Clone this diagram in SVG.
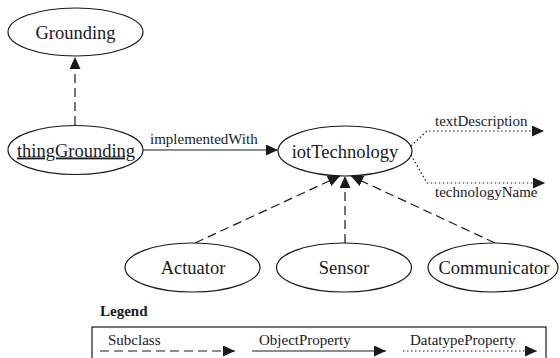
<svg xmlns="http://www.w3.org/2000/svg" width="560" height="358" viewBox="0 0 560 358">
<defs>
<style>
.node ellipse{fill:#fff;stroke:#1a1a1a;stroke-width:1.2}
.lbl{font-family:"Liberation Serif","Times New Roman",serif;font-size:18.5px;fill:#1a1a1a;text-anchor:middle}
.sm{font-family:"Liberation Serif","Times New Roman",serif;font-size:15px;fill:#1a1a1a}
.sub{fill:none;stroke:#1a1a1a;stroke-width:1.2;stroke-dasharray:9,5}
.obj{fill:none;stroke:#1a1a1a;stroke-width:1.2}
.dat{fill:none;stroke:#1a1a1a;stroke-width:1.2;stroke-dasharray:1.5,2.5}
</style>
<marker id="ah" markerUnits="userSpaceOnUse" markerWidth="12" markerHeight="11" refX="12" refY="5.5" orient="auto">
<path d="M0,0 L12,5.5 L0,11 z" fill="#1a1a1a"/>
</marker>
</defs>
<rect width="560" height="358" fill="#fff"/>
<g id="connectors">
<line class="sub" x1="75" y1="125" x2="75" y2="57" marker-end="url(#ah)"/>
<line class="obj" x1="143" y1="150" x2="278" y2="150" marker-end="url(#ah)"/>
<line class="sub" x1="195" y1="243" x2="340" y2="176" marker-end="url(#ah)"/>
<line class="sub" x1="345" y1="243" x2="345" y2="176" marker-end="url(#ah)"/>
<line class="sub" x1="495" y1="243" x2="351" y2="176" marker-end="url(#ah)"/>
<path class="dat" d="M411,146 L427,131 L544,131" marker-end="url(#ah)"/>
<path class="dat" d="M411,155 L427,183 L545,183" marker-end="url(#ah)"/>
<text class="sm" x="150" y="144">implementedWith</text>
<text class="sm" x="435" y="126">textDescription</text>
<text class="sm" x="435" y="197">technologyName</text>
</g>
<g id="Grounding" class="node">
<ellipse cx="75.5" cy="32" rx="67.5" ry="24"/>
<text class="lbl" x="75.5" y="38.5">Grounding</text>
</g>
<g id="thingGrounding" class="node">
<ellipse cx="75.5" cy="150" rx="67.5" ry="24.5"/>
<text class="lbl" x="76" y="156.5" text-decoration="underline">thingGrounding</text>
</g>
<g id="iotTechnology" class="node">
<ellipse cx="345" cy="151" rx="67" ry="25"/>
<text class="lbl" x="345" y="157.5">iotTechnology</text>
</g>
<g id="Actuator" class="node">
<ellipse cx="192.5" cy="267.5" rx="67.5" ry="24.5"/>
<text class="lbl" x="193" y="274">Actuator</text>
</g>
<g id="Sensor" class="node">
<ellipse cx="344" cy="267.5" rx="67.5" ry="24.5"/>
<text class="lbl" x="344" y="274">Sensor</text>
</g>
<g id="Communicator" class="node">
<ellipse cx="493" cy="267.5" rx="65" ry="24.5"/>
<text class="lbl" x="494" y="274">Communicator</text>
</g>
<g id="legend">
<text x="100" y="316" font-family="'Liberation Serif','Times New Roman',serif" font-size="15" font-weight="bold" fill="#1a1a1a">Legend</text>
<rect x="92" y="327" width="454" height="40" fill="none" stroke="#1a1a1a" stroke-width="1.2"/>
<text class="sm" x="108" y="345">Subclass</text>
<line class="sub" x1="100" y1="351" x2="235" y2="351" marker-end="url(#ah)"/>
<text class="sm" x="259" y="345">ObjectProperty</text>
<line class="obj" x1="252" y1="351" x2="386" y2="351" marker-end="url(#ah)"/>
<text class="sm" x="410" y="345">DatatypeProperty</text>
<line class="dat" x1="403" y1="351" x2="537" y2="351" marker-end="url(#ah)"/>
</g>
</svg>
